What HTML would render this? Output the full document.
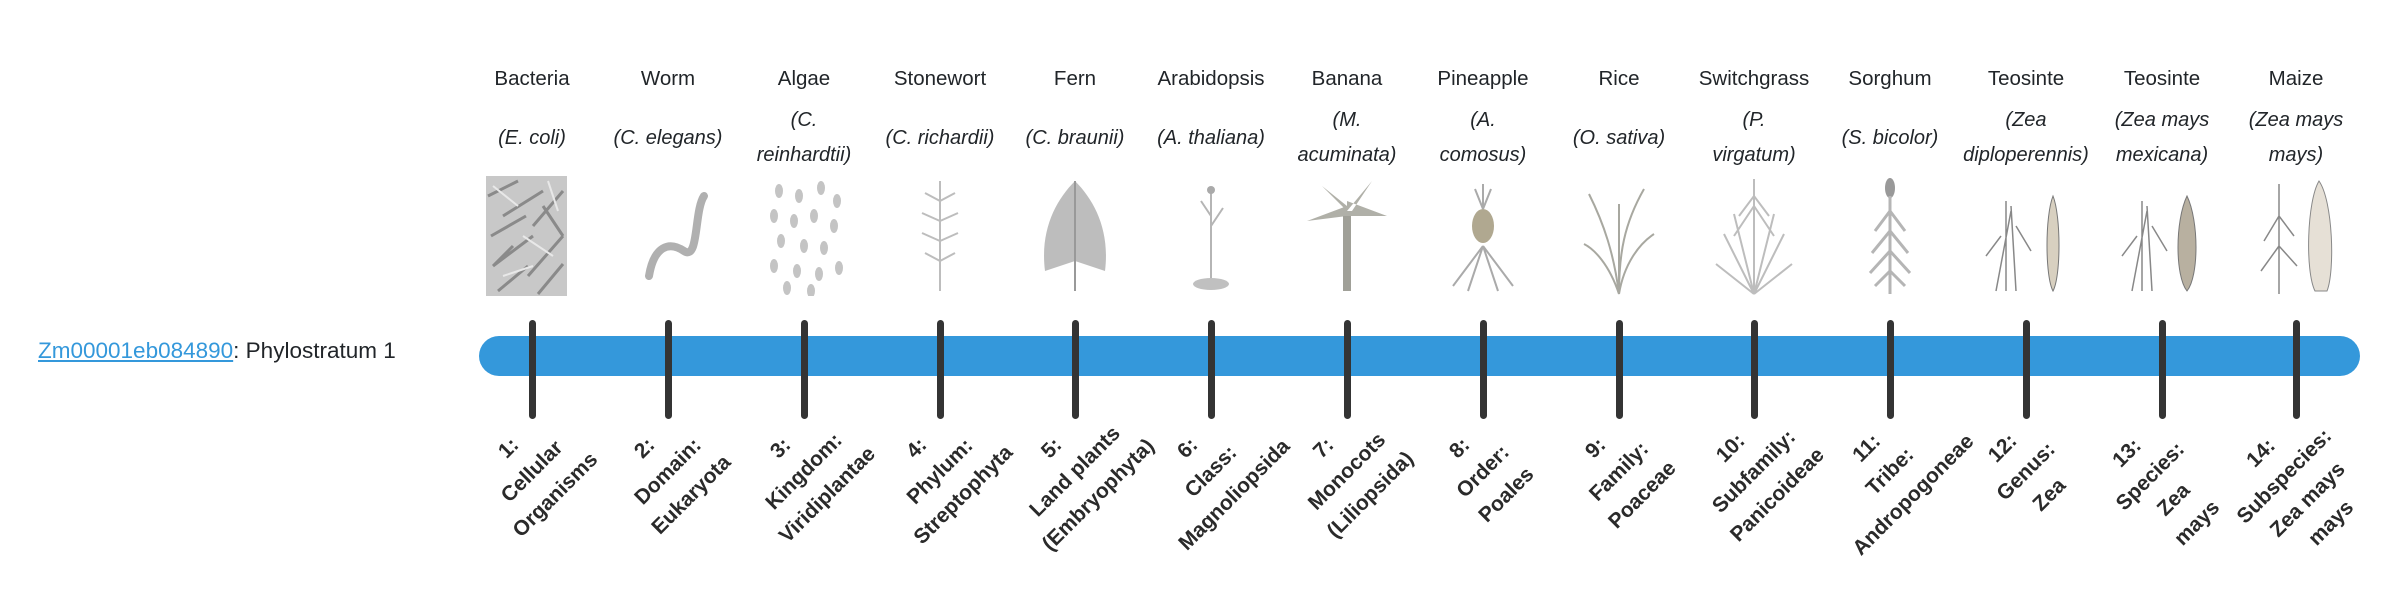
<!DOCTYPE html>
<html><head><meta charset="utf-8">
<style>
html,body{margin:0;padding:0;background:#fff;}
body{width:2400px;height:580px;position:relative;overflow:hidden;font-family:"Liberation Sans",sans-serif;color:#212529;}
.nm{position:absolute;top:67px;width:136px;margin-left:-68px;text-align:center;font-size:20.5px;white-space:nowrap;}
.sp{position:absolute;top:100px;height:76px;width:136px;margin-left:-68px;display:flex;align-items:center;justify-content:center;text-align:center;font-size:20px;font-style:italic;line-height:35px;white-space:nowrap;}
.im{position:absolute;top:176px;width:90px;height:120px;margin-left:-45px;}
.bar{position:absolute;left:479px;top:336px;width:1881px;height:40px;border-radius:20px;background:#3498db;}
.tk{position:absolute;top:320px;width:7px;margin-left:-3.5px;height:99px;border-radius:4px;background:#343434;}
.lb{position:absolute;width:220px;margin-left:-110px;top:422px;text-align:center;font-weight:bold;font-size:21px;line-height:33px;color:#2a2a2a;transform:rotate(-45deg);transform-origin:50% 50%;white-space:nowrap;}
.left{position:absolute;left:38px;top:338px;font-size:22.5px;}
.left a{color:#3498db;text-decoration:underline;}
</style></head><body>
<div class="left"><a>Zm00001eb084890</a>: Phylostratum 1</div>
<div class="bar"></div>

<div class="nm" style="left:532px">Bacteria</div>
<div class="nm" style="left:668px">Worm</div>
<div class="nm" style="left:804px">Algae</div>
<div class="nm" style="left:940px">Stonewort</div>
<div class="nm" style="left:1075px">Fern</div>
<div class="nm" style="left:1211px">Arabidopsis</div>
<div class="nm" style="left:1347px">Banana</div>
<div class="nm" style="left:1483px">Pineapple</div>
<div class="nm" style="left:1619px">Rice</div>
<div class="nm" style="left:1754px">Switchgrass</div>
<div class="nm" style="left:1890px">Sorghum</div>
<div class="nm" style="left:2026px">Teosinte</div>
<div class="nm" style="left:2162px">Teosinte</div>
<div class="nm" style="left:2296px">Maize</div>

<div class="sp" style="left:532px">(E. coli)</div>
<div class="sp" style="left:668px">(C. elegans)</div>
<div class="sp" style="left:804px">(C.<br>reinhardtii)</div>
<div class="sp" style="left:940px">(C. richardii)</div>
<div class="sp" style="left:1075px">(C. braunii)</div>
<div class="sp" style="left:1211px">(A. thaliana)</div>
<div class="sp" style="left:1347px">(M.<br>acuminata)</div>
<div class="sp" style="left:1483px">(A.<br>comosus)</div>
<div class="sp" style="left:1619px">(O. sativa)</div>
<div class="sp" style="left:1754px">(P.<br>virgatum)</div>
<div class="sp" style="left:1890px">(S. bicolor)</div>
<div class="sp" style="left:2026px">(Zea<br>diploperennis)</div>
<div class="sp" style="left:2162px">(Zea mays<br>mexicana)</div>
<div class="sp" style="left:2296px">(Zea mays<br>mays)</div>

<!-- images -->
<svg class="im" style="left:528px" viewBox="0 0 90 120"><rect x="3" y="0" width="81" height="120" fill="#c8c8c8"/><g stroke="#8a8a8a" stroke-width="3" fill="none"><path d="M5 20l30-15M20 40l40-25M8 60l35-20M50 50l30-35M10 90l40-30M45 100l35-40M15 115l30-25M55 118l25-30M60 30l20 30M30 70l-20 20"/></g><g stroke="#e8e8e8" stroke-width="2"><path d="M10 10l25 20M40 60l30 20M20 100l30-10M65 5l10 30"/></g></svg>
<svg class="im" style="left:668px" viewBox="0 0 90 120"><path d="M26 100c5-30 20-35 35-25s10-40 20-55" stroke="#b0b0b0" stroke-width="8" fill="none" stroke-linecap="round"/></svg>
<svg class="im" style="left:804px" viewBox="0 0 90 120"><g fill="#c4c4c4"><ellipse cx="20" cy="15" rx="4" ry="7"/><ellipse cx="40" cy="20" rx="4" ry="7"/><ellipse cx="62" cy="12" rx="4" ry="7"/><ellipse cx="78" cy="25" rx="4" ry="7"/><ellipse cx="15" cy="40" rx="4" ry="7"/><ellipse cx="35" cy="45" rx="4" ry="7"/><ellipse cx="55" cy="40" rx="4" ry="7"/><ellipse cx="75" cy="50" rx="4" ry="7"/><ellipse cx="22" cy="65" rx="4" ry="7"/><ellipse cx="45" cy="70" rx="4" ry="7"/><ellipse cx="65" cy="72" rx="4" ry="7"/><ellipse cx="15" cy="90" rx="4" ry="7"/><ellipse cx="38" cy="95" rx="4" ry="7"/><ellipse cx="60" cy="98" rx="4" ry="7"/><ellipse cx="80" cy="92" rx="4" ry="7"/><ellipse cx="28" cy="112" rx="4" ry="7"/><ellipse cx="52" cy="115" rx="4" ry="7"/></g></svg>
<svg class="im" style="left:940px" viewBox="0 0 90 120"><g stroke="#bdbdbd" stroke-width="2" fill="none"><path d="M45 5v110M45 25l-15-8M45 25l15-8M45 45l-18-8M45 45l18-8M45 65l-18-8M45 65l18-8M45 85l-15-8M45 85l15-8"/></g></svg>
<svg class="im" style="left:1075px" viewBox="0 0 90 120"><g fill="#bdbdbd"><path d="M45 5c-20 20-35 50-30 90l30-10 30 10c5-40-10-70-30-90z"/></g><path d="M45 5v110" stroke="#999" stroke-width="2"/></svg>
<svg class="im" style="left:1211px" viewBox="0 0 90 120"><g stroke="#b5b5b5" stroke-width="2" fill="none"><path d="M45 15v90M45 40l-10-15M45 50l12-18"/></g><ellipse cx="45" cy="108" rx="18" ry="6" fill="#c0c0c0"/><circle cx="45" cy="14" r="4" fill="#aaa"/></svg>
<svg class="im" style="left:1347px" viewBox="0 0 90 120"><g fill="#b0b0a8"><path d="M45 40l-40 5 40-15zM45 40l40 0-40-15zM45 35l-25-25 25 20zM45 35l25-30-20 30z"/></g><rect x="41" y="40" width="8" height="75" fill="#a0a098"/></svg>
<svg class="im" style="left:1483px" viewBox="0 0 90 120"><ellipse cx="45" cy="50" rx="11" ry="17" fill="#b0a890"/><g stroke="#aaa" stroke-width="2" fill="none"><path d="M45 33l-8-20M45 33l8-20M45 33v-25M45 70l-30 40M45 70l30 40M45 70l-15 45M45 70l15 45"/></g></svg>
<svg class="im" style="left:1619px" viewBox="0 0 90 120"><g stroke="#a8a8a0" stroke-width="2" fill="none"><path d="M45 118c-5-40-15-70-30-100M45 118c0-40 5-70 25-105M45 118c5-30 20-50 35-60M45 118c-10-30-25-45-35-50M45 118v-90"/></g></svg>
<svg class="im" style="left:1754px" viewBox="0 0 90 120"><g stroke="#bdbdbd" stroke-width="2" fill="none"><path d="M45 118v-115M45 118l-30-60M45 118l30-60M45 118l-20-80M45 118l20-80M45 118l-38-30M45 118l38-30M30 40l15-20 15 20M25 60l20-30 20 30"/></g></svg>
<svg class="im" style="left:1890px" viewBox="0 0 90 120"><ellipse cx="45" cy="12" rx="5" ry="10" fill="#999"/><g stroke="#b5b5b5" stroke-width="3" fill="none"><path d="M45 20v98M45 35l-15 20M45 35l15 20M45 55l-18 22M45 55l18 22M45 75l-20 22M45 75l20 22M45 95l-15 15M45 95l15 15"/></g></svg>
<svg class="im" style="left:2026px" viewBox="0 0 90 120"><g stroke="#888" stroke-width="1.5" fill="none"><path d="M25 115v-90M15 115l15-80M35 115l-5-85M20 60l-15 20M35 50l15 25"/></g><path d="M72 20c-8 20-8 80 0 95c8-15 8-75 0-95z" fill="#d8d0c0" stroke="#777"/></svg>
<svg class="im" style="left:2162px" viewBox="0 0 90 120"><g stroke="#888" stroke-width="1.5" fill="none"><path d="M25 115v-90M15 115l15-80M35 115l-5-85M20 60l-15 20M35 50l15 25"/></g><path d="M70 20c-12 25-12 80 0 95c12-15 12-70 0-95z" fill="#b8b0a0" stroke="#777"/></svg>
<svg class="im" style="left:2296px" viewBox="0 0 90 120"><g stroke="#888" stroke-width="1.5" fill="none"><path d="M28 118v-110M28 40l-15 25M28 40l15 20M28 70l-18 25M28 70l18 20"/></g><path d="M68 5c-12 20-14 90-4 110h12c8-20 6-90-8-110z" fill="#e6e0d6" stroke="#888"/></svg>

<!-- ticks -->
<div class="tk" style="left:532px"></div>
<div class="tk" style="left:668px"></div>
<div class="tk" style="left:804px"></div>
<div class="tk" style="left:940px"></div>
<div class="tk" style="left:1075px"></div>
<div class="tk" style="left:1211px"></div>
<div class="tk" style="left:1347px"></div>
<div class="tk" style="left:1483px"></div>
<div class="tk" style="left:1619px"></div>
<div class="tk" style="left:1754px"></div>
<div class="tk" style="left:1890px"></div>
<div class="tk" style="left:2026px"></div>
<div class="tk" style="left:2162px"></div>
<div class="tk" style="left:2296px"></div>

<!-- labels -->
<div class="lb" style="left:532px">1:<br>Cellular<br>Organisms</div>
<div class="lb" style="left:668px">2:<br>Domain:<br>Eukaryota</div>
<div class="lb" style="left:804px">3:<br>Kingdom:<br>Viridiplantae</div>
<div class="lb" style="left:940px">4:<br>Phylum:<br>Streptophyta</div>
<div class="lb" style="left:1075px">5:<br>Land plants<br>(Embryophyta)</div>
<div class="lb" style="left:1211px">6:<br>Class:<br>Magnoliopsida</div>
<div class="lb" style="left:1347px">7:<br>Monocots<br>(Liliopsida)</div>
<div class="lb" style="left:1483px">8:<br>Order:<br>Poales</div>
<div class="lb" style="left:1619px">9:<br>Family:<br>Poaceae</div>
<div class="lb" style="left:1754px">10:<br>Subfamily:<br>Panicoideae</div>
<div class="lb" style="left:1890px">11:<br>Tribe:<br>Andropogoneae</div>
<div class="lb" style="left:2026px">12:<br>Genus:<br>Zea</div>
<div class="lb" style="left:2162px">13:<br>Species:<br>Zea<br>mays</div>
<div class="lb" style="left:2296px">14:<br>Subspecies:<br>Zea mays<br>mays</div>
</body></html>
